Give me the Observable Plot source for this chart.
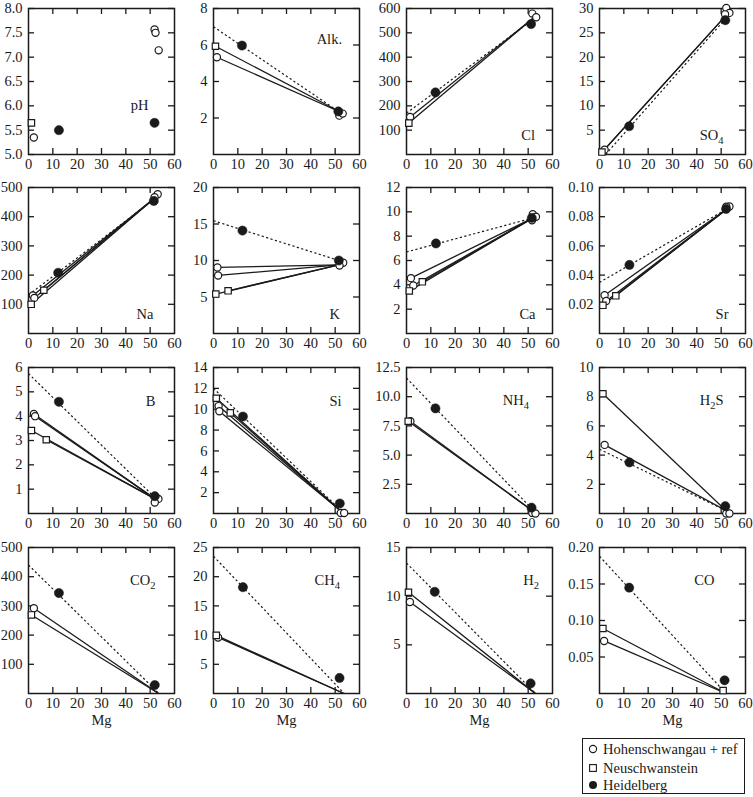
<!DOCTYPE html>
<html>
<head>
<meta charset="utf-8">
<script src="https://cdn.jsdelivr.net/npm/d3@7"></script>
<script src="https://cdn.jsdelivr.net/npm/@observablehq/plot@0.6"></script>
<style>
  html, body { margin: 0; padding: 0; background: #ffffff; }
  #chart { position: relative; width: 753px; height: 797px; overflow: hidden;
           font-family: "Liberation Serif", "Times New Roman", serif; color: #1a1a1a; }
  #chart svg.panel { position: absolute; overflow: visible; max-width: none; }
  #legend { position: absolute; left: 582px; top: 738px; width: 161px; height: 54px;
            border: 1.5px solid #1a1a1a; font-size: 14.5px; background: #fff; }
  #legend .row { position: absolute; left: 0; height: 18px; line-height: 18px; white-space: nowrap; }
  #legend .row svg { position: absolute; left: 4px; top: 3px; }
  #legend .row span { position: absolute; left: 20px; top: 0; }
</style>
</head>
<body>
<div id="chart">
  <div id="legend"></div>
</div>
<script>
// ---------------- data ----------------
const labels = ["pH","Alk.","Cl","SO_4","Na","K","Ca","Sr","B","Si","NH_4","H_2S","CO_2","CH_4","H_2","CO"];

const yDomains = [[5,8],[0,8],[0,600],[0,30],[0,500],[0,20],[0,12],[0,0.10],
                  [0,6],[0,14],[0,12.5],[0,10],[0,500],[0,25],[0,15],[0,0.20]];

const yTickValues = [
  [5,5.5,6,6.5,7,7.5,8],
  [2,4,6,8],
  [100,200,300,400,500,600],
  [5,10,15,20,25,30],
  [100,200,300,400,500],
  [5,10,15,20],
  [2,4,6,8,10,12],
  [0.02,0.04,0.06,0.08,0.10],
  [1,2,3,4,5,6],
  [2,4,6,8,10,12,14],
  [2.5,5,7.5,10,12.5],
  [2,4,6,8,10],
  [100,200,300,400,500],
  [5,10,15,20,25],
  [5,10,15],
  [0.05,0.10,0.15,0.20]
];
const yTickFormats = [".1f","d","d","d","d","d","d",".2f","d","d",".1f","d","d","d","d",".2f"];

const xTickValues = [0,10,20,30,40,50,60];

// Hohenschwangau vent samples [Mg, value]
const hohenschwangau = [
  [[2.2,5.35]],
  [[1.4,5.33]],
  [[1.5,154]],
  [[2.1,1.0]],
  [[1.8,130],[2.4,122]],
  [[1.6,9.05],[1.9,7.95]],
  [[1.8,4.55],[2.8,3.95]],
  [[2.1,0.0262],[2.75,0.0223]],
  [[2.2,4.09],[2.7,4.0]],
  [[2.1,10.3],[2.4,9.8]],
  [[1.6,7.9]],
  [[2.1,4.7]],
  [[2.2,292]],
  [[1.9,9.6]],
  [[1.4,9.4]],
  [[1.9,0.072]]
];
// reference (seawater) samples, open circles [Mg, value]
const reference = [
  [[51.8,7.57],[52.2,7.5],[53.5,7.14]],
  [[51.7,2.13],[53.1,2.24]],
  [[51.7,579],[53.3,564]],
  [[52.1,30.1],[53.4,29.1],[51.6,28.8]],
  [[53.1,477],[51.8,467]],
  [[53.3,9.7],[51.8,9.3]],
  [[51.9,9.8],[53.2,9.6],[51.6,9.3]],
  [[53.4,0.087],[52.1,0.0868]],
  [[53.4,0.6],[51.9,0.45]],
  [[52.3,0.05],[53.7,0.05]],
  [[51.7,0.05],[53.0,0.0]],
  [[52.1,0.0],[53.4,0.0]],
  [],[],[],[]
];
// Neuschwanstein samples [Mg, value]
const neuschwanstein = [
  [[1.2,5.65]],
  [[0.8,5.93]],
  [[0.95,129]],
  [[1.0,0.5]],
  [[1.1,100],[6.3,148]],
  [[0.95,5.4],[6.0,5.85]],
  [[1.15,3.5],[6.5,4.25]],
  [[1.4,0.0193],[6.7,0.0258]],
  [[1.2,3.41],[7.3,3.03]],
  [[1.15,11.05],[6.9,9.65]],
  [[0.7,7.9]],
  [[1.4,8.2]],
  [[1.2,269]],
  [[1.15,9.95]],
  [[0.8,10.4]],
  [[1.4,0.089],[50.8,0.004]]
];
// Heidelberg samples [Mg, value]
const heidelberg = [
  [[12.5,5.5],[51.8,5.65]],
  [[11.7,5.97],[51.3,2.36]],
  [[11.9,255],[51.2,536]],
  [[12.2,5.8],[51.7,27.6]],
  [[12.2,208],[51.5,454]],
  [[11.9,14.1],[51.5,10.0]],
  [[12.1,7.4],[51.5,9.5]],
  [[12.3,0.047],[52.0,0.0853]],
  [[12.5,4.59],[51.9,0.71]],
  [[12.1,9.3],[51.9,0.96]],
  [[11.9,9.0],[51.4,0.5]],
  [[12.3,3.5],[51.7,0.5]],
  [[12.5,344],[51.9,29]],
  [[12.1,18.2],[51.8,2.66]],
  [[11.6,10.45],[51.0,1.03]],
  [[12.2,0.145],[51.4,0.018]]
];
// Heidelberg trend (dashed), [start, end] as [Mg, value]
const heidelbergTrend = [
  null,
  [[0,7.0],[51.5,2.35]],
  [[0,170],[52,555]],
  [[2.5,0],[52,28]],
  [[0,132],[52,462]],
  [[0,15.45],[51.5,10.0]],
  [[0,6.7],[52,9.5]],
  [[0,0.035],[52,0.085]],
  [[0,5.75],[52,0.65]],
  [[0,12.0],[51.5,0.5]],
  [[0,11.6],[52,0.3]],
  [[0,4.4],[52,0.2]],
  [[0,440],[53,5]],
  [[0,23.5],[53.7,0]],
  [[0,13.4],[53,0]],
  [[0,0.188],[52,0]]
];
// end point of the solid mixing lines (seawater composition) [Mg, value]
const seawater = [
  null,[52.5,2.3],[52,560],[52,28.6],
  [52,465],[51.5,9.4],[52,9.5],[52.5,0.0855],
  [52,0.6],[51.5,0.4],[52,0.2],[52,0.2],
  [53.5,0],[53.6,0],[53,0],[52,0]
];

const legendItems = ["Hohenschwangau + ref","Neuschwanstein","Heidelberg"];

// ---------------- layout ----------------
const INK = "#1a1a1a";
const W = 146, H = 146;
const colX = [28, 212.5, 406, 599.3];
const rowY = [7.5, 186.5, 367, 546.5];
const mL = 40, mR = 8, mT = 8, mB = 42;
// label placement: distance from frame right, distance from frame top
const labelDx = [26,17.5,17.5,22, 21,19.5,17,17, 19,18,23.5,22, 19,19.5,13.5,31];
const labelDy = [91.5,25,121,121, 121,121,121,121, 28,28,27,27, 27,27,27,27];

const chart = document.getElementById("chart");
const toPts = a => a.map(([x, y]) => ({x, y}));

function applySubscripts(svg) {
  svg.querySelectorAll("g.plabel text").forEach(t => {
    const s = t.textContent;
    if (!s.includes("_")) return;
    t.textContent = "";
    let lowered = false;
    s.split(/(_\d)/).forEach(p => {
      if (!p) return;
      const ts = document.createElementNS("http://www.w3.org/2000/svg", "tspan");
      if (p.startsWith("_")) {
        ts.textContent = p.slice(1);
        ts.setAttribute("font-size", "10.5px");
        ts.setAttribute("dy", "4");
        lowered = true;
      } else {
        ts.textContent = p;
        if (lowered) { ts.setAttribute("dy", "-4"); lowered = false; }
      }
      t.appendChild(ts);
    });
  });
}

labels.forEach((label, i) => {
  const col = i % 4, row = Math.floor(i / 4);
  const sw = seawater[i];
  const vents = [...hohenschwangau[i], ...neuschwanstein[i]];
  const links = sw ? vents.map(([x, y]) => ({x1: x, y1: y, x2: sw[0], y2: sw[1]})) : [];
  const tr = heidelbergTrend[i];
  const trend = tr ? [{x1: tr[0][0], y1: tr[0][1], x2: tr[1][0], y2: tr[1][1]}] : [];
  const yt = yTickValues[i];
  const innerX = xTickValues.slice(1, -1);

  const marks = [
    Plot.link(links, {x1: "x1", y1: "y1", x2: "x2", y2: "y2", stroke: INK, strokeWidth: 1.3}),
    Plot.link(trend, {x1: "x1", y1: "y1", x2: "x2", y2: "y2", stroke: INK, strokeWidth: 1.2, strokeDasharray: "2.2,2.4"}),
    Plot.tickX(innerX, {x: d => d, insetBottom: H - 6, stroke: INK, strokeWidth: 1.3}),
    Plot.tickX(innerX, {x: d => d, insetTop: H - 6, stroke: INK, strokeWidth: 1.3}),
    Plot.tickY(yt, {y: d => d, insetRight: W - 6, stroke: INK, strokeWidth: 1.3}),
    Plot.tickY(yt, {y: d => d, insetLeft: W - 6, stroke: INK, strokeWidth: 1.3}),
    Plot.axisX({ticks: xTickValues, anchor: "bottom", tickSize: 0, tickPadding: 4, label: null}),
    Plot.axisY({ticks: yt, anchor: "left", tickSize: 0, tickPadding: 6, tickFormat: yTickFormats[i], label: null}),
    Plot.frame({stroke: INK, strokeWidth: 1.5}),
    Plot.dot(toPts([...reference[i], ...hohenschwangau[i]]), {x: "x", y: "y", r: 3.6, fill: "white", stroke: INK, strokeWidth: 1.2}),
    Plot.dot(toPts(neuschwanstein[i]), {x: "x", y: "y", symbol: "square", r: 3.6, fill: "white", stroke: INK, strokeWidth: 1.2}),
    Plot.dot(toPts(heidelberg[i]), {x: "x", y: "y", r: 4.6, fill: INK, stroke: INK, strokeWidth: 0.5}),
    Plot.text([label], {frameAnchor: "top-right", dx: -labelDx[i], dy: labelDy[i], textAnchor: "end", text: d => d, className: "plabel", fill: INK})
  ];
  if (row === 3) marks.push(Plot.text(["Mg"], {frameAnchor: "bottom", dy: 31, text: d => d, fill: INK}));

  const svg = Plot.plot({
    width: mL + W + mR,
    height: mT + H + mB,
    marginLeft: mL, marginRight: mR, marginTop: mT, marginBottom: mB,
    x: {domain: [0, 60], label: null},
    y: {domain: yDomains[i], label: null},
    style: {fontFamily: '"Liberation Serif", "Times New Roman", serif', fontSize: "14.5px", color: INK, background: "transparent", overflow: "visible"},
    marks
  });
  svg.classList.add("panel");
  svg.style.left = (colX[col] - mL) + "px";
  svg.style.top = (rowY[row] - mT) + "px";
  applySubscripts(svg);
  chart.appendChild(svg);
});

// ---------------- legend ----------------
const legend = document.getElementById("legend");
const symbols = [
  '<circle cx="6" cy="6" r="3.6" fill="white" stroke="' + INK + '" stroke-width="1.1"/>',
  '<rect x="2.6" y="2.6" width="6.8" height="6.8" fill="white" stroke="' + INK + '" stroke-width="1.1"/>',
  '<circle cx="6" cy="6" r="4" fill="' + INK + '"/>'
];
const rowTops = [1.3, 19.7, 37.3];
legendItems.forEach((name, k) => {
  const div = document.createElement("div");
  div.className = "row";
  div.style.top = rowTops[k] + "px";
  div.innerHTML = '<svg width="12" height="12">' + symbols[k] + '</svg>';
  const span = document.createElement("span");
  span.textContent = name;
  div.appendChild(span);
  legend.appendChild(div);
});
</script>
</body>
</html>
